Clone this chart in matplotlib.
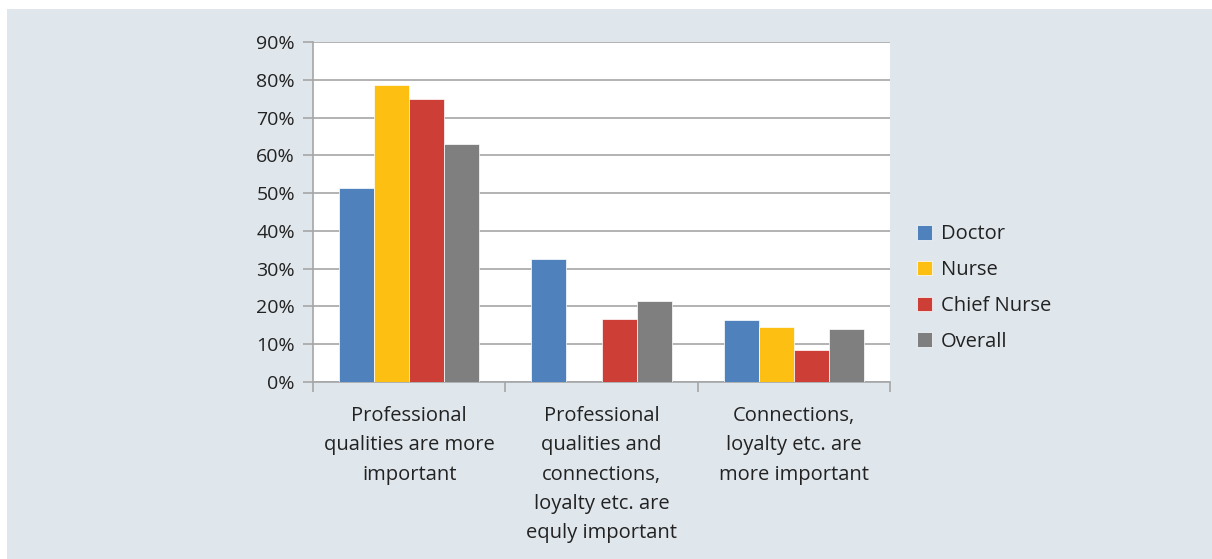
import matplotlib.pyplot as plt
import numpy as np
from matplotlib.patches import Rectangle

categories = ["Professional\nqualities are more\nimportant",
              "Professional\nqualities and\nconnections,\nloyalty etc. are\nequly important",
              "Connections,\nloyalty etc. are\nmore important"]
series = ["Doctor", "Nurse", "Chief Nurse", "Overall"]
doctor = [51.4, 32.6, 16.3]
nurse = [78.6, 0.0, 14.5]
chief_nurse = [74.9, 16.7, 8.4]
overall = [63.0, 21.4, 14.0]
colors = ["#4f81bd", "#fdbf11", "#cc3e36", "#7f7f7f"]

BG = "#dfe6ec"
GRID = "#a6a6a6"

plt.rcParams['font.family'] = ['Open Sans', 'DejaVu Sans']

fig = plt.figure(figsize=(12.12, 5.59), dpi=100)
fig.patch.set_facecolor("white")
fig.patches.append(Rectangle((7 / 1212, 0), 1 - 7 / 1212, 1 - 9 / 559,
                             transform=fig.transFigure, facecolor=BG,
                             edgecolor="none", zorder=-10))

ax = fig.add_axes([313 / 1212, 1 - 382 / 559, 577 / 1212, 340 / 559])
ax.set_facecolor("white")

x = np.arange(len(categories))
w = 0.182
data = [doctor, nurse, chief_nurse, overall]
for i, (name, vals) in enumerate(zip(series, data)):
    ax.bar(x + (i - 1.5) * w, vals, w, color=colors[i], label=name,
           edgecolor="white", linewidth=0.5, zorder=3)

ax.set_xlim(-0.5, 2.5)
ax.set_ylim(0, 90)
ax.set_yticks(range(0, 91, 10))
ax.set_yticklabels([f"{v}%" for v in range(0, 91, 10)])
ax.yaxis.grid(True, color=GRID, linewidth=1.2, zorder=0)

ax.set_xticks([-0.5, 0.5, 1.5, 2.5])
ax.set_xticklabels([])
ax.set_xticks(x, minor=True)
ax.set_xticklabels(categories, minor=True, fontsize=14.5, color="#222222",
                   linespacing=1.63, va="top")
ax.tick_params(axis="x", which="minor", length=0, pad=17)
ax.tick_params(axis="x", which="major", length=7, color=GRID, width=1.2)
ax.tick_params(axis="y", length=7, color=GRID, width=1.2, labelsize=14,
               labelcolor="#222222", pad=6)

for s in ["top", "right"]:
    ax.spines[s].set_visible(False)
for s in ["left", "bottom"]:
    ax.spines[s].set_color(GRID)
    ax.spines[s].set_linewidth(1.2)

leg = ax.legend(loc="center left", bbox_to_anchor=(899 / 1212, 1 - 288 / 559),
                bbox_transform=fig.transFigure, frameon=False, fontsize=14.5,
                handlelength=0.72, handleheight=0.72, handletextpad=0.45,
                labelspacing=0.78)
for t in leg.get_texts():
    t.set_color("#222222")

fig.savefig("out.png", dpi=100, facecolor=fig.get_facecolor())
